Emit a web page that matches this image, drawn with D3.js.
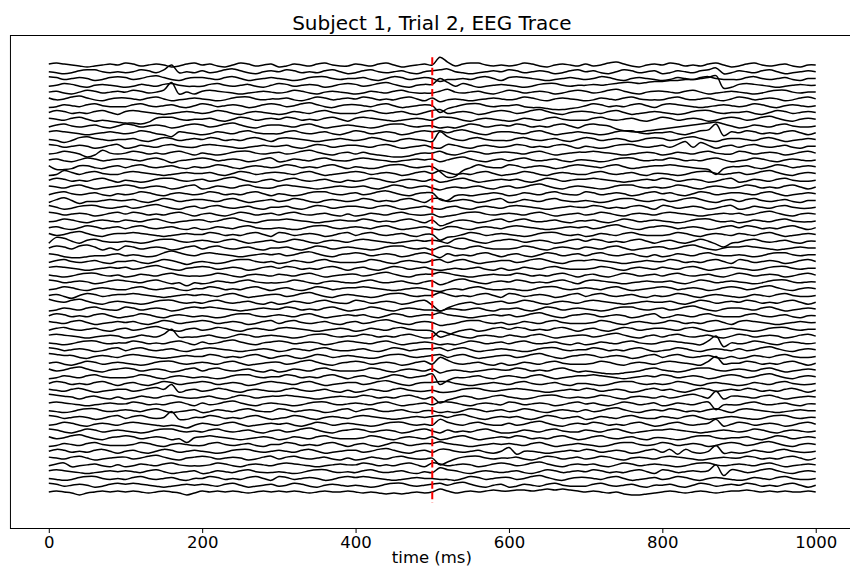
<!DOCTYPE html>
<html>
<head>
<meta charset="utf-8">
<script src="https://cdn.jsdelivr.net/npm/d3@7/dist/d3.min.js"></script>
<style>
  html, body { margin: 0; padding: 0; background: #fff; }
  svg { display: block; font-family: "DejaVu Sans", sans-serif; }
</style>
</head>
<body>
<svg id="chart" width="850" height="567"></svg>
<script>
// ---------------- data ----------------
const titleText = "Subject 1, Trial 2, EEG Trace";
const xLabel = "time (ms)";
const xTicks = [0, 200, 400, 600, 800, 1000];
const xLimits = [-50, 1049];
const yLimits = [-478.2, 31.0];
const stimulusTime = 500;
const stimulusSpan = [-452, 8];
const channelSpacing = 7;
const times = [0,10,20,30,40,50,60,70,80,90,100,110,120,130,140,150,160,170,180,190,
  200,210,220,230,240,250,260,270,280,290,300,310,320,330,340,350,360,370,380,390,
  400,410,420,430,440,450,460,470,480,490,500,510,520,530,540,550,560,570,580,590,
  600,610,620,630,640,650,660,670,680,690,700,710,720,730,740,750,760,770,780,790,
  800,810,820,830,840,850,860,870,880,890,900,910,920,930,940,950,960,970,980,990,1000];

// amplitude per channel (µV), one value per entry of `times`
const ch01 = [1,2,1,0,-1,-2,-1,0,1,0, 2,1,-1,0,1,0,-2,-1,1,2, 0,1,-1,-2,0,2,1,-1,0,1, -2,-1,1,0,-1,1,2,0,-1,-1, 1,0,-1,1,2,0,-2,-1,0,1, 0,8,3,-1,1,2,2,0,-1,0, -1,0,2,1,-1,-2,0,1,0,-1, 1,-1,0,2,3,1,-1,-2,0,1, 0,2,1,-1,0,-1,1,2,0,-2, -1,1,2,0,-1,0,1,-1,-2,0, 0];
const ch02 = [0,-1,-2,-1,1,2,2,0,-1,0, -1,0,2,1,-1,2,7,-1,0,-1, 1,-1,0,2,3,1,-1,-2,0,1, 0,2,1,-1,0,-1,1,2,0,-2, -1,1,2,0,-1,0,1,-1,-2,0, 1,2,3,0,-1,-2,-1,0,1,0, 2,1,-1,0,1,0,-2,-1,1,2, 0,1,-1,-2,0,2,1,-1,0,1, -2,-1,1,0,-1,1,2,4,-2,-1, 1,0,-1,1,2,0,-2,-1,0,1, 0];
const ch03 = [2,1,-1,0,1,0,-2,-1,1,2, 1,-1,0,2,3,1,-1,-2,0,1, 1,0,-1,1,2,0,-2,-1,0,1, 0,-1,-2,-1,1,2,2,0,-1,0, 0,1,-1,-2,0,2,1,-1,0,1, 0,-3,-1,-1,0,-1,1,2,0,-2, 1,2,1,0,-1,-2,-1,0,1,0, -1,0,2,1,-1,-2,0,1,0,-1, -2,-1,1,0,-1,1,2,0,-1,-1, -1,1,2,0,-1,0,1,-1,-2,0, 0];
const ch04 = [-1,0,2,1,-1,-2,0,1,0,-1, -2,-1,1,0,-1,1,2,0,-1,-1, -1,1,2,0,-1,0,1,-1,-2,0, 2,1,-1,0,1,0,-2,-1,1,2, 1,-1,0,2,3,1,-1,-2,0,1, 1,7,3,-1,2,0,-2,-1,0,1, 0,-1,-2,-1,1,2,2,0,-1,0, 0,1,0,1,2,3,3,2,3,4, 4,5,5,6,6,7,8,10,-3,-2, 1,2,1,0,-1,-2,-1,0,1,0, 0];
const ch05 = [0,1,-1,-2,0,2,1,-1,0,1, 0,2,1,-1,0,2,10,-2,0,-2, 1,2,1,0,-1,-2,-1,0,1,0, -1,0,2,1,-1,-2,0,1,0,-1, -2,-1,1,0,-1,1,2,0,-1,-1, -1,1,3,0,-1,0,1,-1,-2,0, 2,1,-1,0,1,0,-2,-1,1,2, 1,-1,0,2,3,1,-1,-2,0,1, 1,0,-1,1,2,0,-2,-1,0,1, 0,-1,-2,-1,1,2,2,0,-1,0, 0];
const ch06 = [1,-1,0,2,3,1,-1,-2,0,1, 1,0,-1,1,2,0,-2,-1,0,1, 0,-1,-2,-1,1,2,2,0,-1,0, 0,1,-1,-2,0,2,1,-1,0,1, 0,2,1,-1,0,-1,1,2,0,-2, 1,-3,-1,0,-1,-2,-1,0,1,0, -1,0,2,1,-1,-2,0,1,0,-1, -2,-1,1,0,-1,1,2,0,-1,-1, -1,1,2,0,-1,0,1,-1,-2,0, 2,1,-1,0,1,0,-2,-1,1,2, 0];
const ch07 = [-2,-1,1,0,-1,1,2,0,-1,-1, -1,1,2,0,-1,0,1,-1,-2,0, 2,1,-1,0,1,0,-2,-1,1,2, 1,-1,0,2,3,1,-1,-2,0,1, 1,0,-1,1,2,0,-2,-1,0,1, 0,-7,-3,-1,1,2,2,0,-1,0, 0,1,-1,-2,-2,-3,-4,-4,-3,-2, 0,2,1,-1,0,-1,1,2,0,-2, 1,2,1,0,-1,-2,-1,0,1,0, -1,0,2,1,-1,-2,0,1,0,-1, 0];
const ch08 = [0,2,1,-1,0,-1,1,2,0,-2, 1,2,1,0,-1,-2,-1,0,1,0, -1,0,2,1,-1,-2,0,1,0,-1, -2,-1,1,0,-1,1,2,0,-1,-1, -1,1,2,0,-1,0,1,-1,-2,0, 2,3,-1,0,1,0,-2,-1,1,2, 1,-1,0,2,3,1,-1,-2,0,1, 1,0,-1,1,2,0,-2,-1,0,1, 0,-1,-2,-1,1,2,2,0,-1,0, 0,1,-1,-2,0,2,1,-1,0,1, 0];
const ch09 = [1,0,-1,1,2,0,-2,-1,-2,-3, -4,-4,-5,-3,1,2,2,0,-1,0, 0,1,-1,-2,0,2,1,-1,0,1, 0,2,1,-1,0,-1,1,2,0,-2, 1,2,1,0,-1,-2,-1,0,1,0, -1,2,2,1,-1,-2,0,1,0,-1, -2,-1,1,0,-1,1,2,0,-1,-1, -1,1,2,0,-1,0,1,-1,-2,0, 2,1,-1,0,1,0,-2,-1,1,2, 1,-1,0,2,3,1,-1,-2,0,1, 0];
const ch10 = [-1,1,2,0,-1,0,1,-1,-2,0, 2,1,-1,0,1,0,-2,-1,1,2, 1,-1,0,2,3,1,-1,-2,0,1, 1,0,-1,1,2,0,-2,-1,0,1, 0,-1,-2,-1,1,2,2,0,-1,0, 0,-2,-1,-2,0,2,1,-1,0,1, 0,2,1,-1,0,-1,1,2,0,-2, 1,2,1,0,-3,-5,-6,-6,-5,-4, -3,-2,-1,0,1,2,3,4,2,0, -2,-1,1,0,-1,1,2,0,-1,-1, 0];
const ch11 = [1,2,1,0,-1,-2,-1,0,1,0, -1,0,2,1,-1,-2,-4,1,0,-1, -2,-1,1,0,-1,1,2,0,-1,-1, -1,1,2,0,-1,0,1,-1,-2,0, 2,1,-1,0,1,0,-2,-1,1,2, 1,2,0,2,3,1,-1,-2,0,1, 1,0,-1,1,2,0,-2,-1,0,1, 0,-1,-2,-1,1,2,2,0,-1,0, 0,1,-1,-2,0,2,3,9,-3,1, 0,2,1,-1,0,-1,1,2,0,-2, 0];
const ch12 = [0,-1,-3,-1,2,3,1,0,-1,0, 0,1,-1,-2,0,2,1,-1,0,1, 0,2,1,-1,0,-1,1,2,0,-2, 1,2,1,0,-1,-2,-1,0,1,0, -1,0,2,1,-1,-2,0,1,0,-1, -2,8,3,0,-1,1,2,0,-1,-1, -1,1,2,0,-1,0,1,-1,-2,0, 2,1,-1,0,1,0,-2,-1,1,2, 1,-1,0,2,3,1,-1,-2,0,1, 1,0,-1,1,2,0,-2,-1,0,1, 0];
const ch13 = [2,1,-1,0,1,0,-2,-1,1,2, -2,-1,1,0,-1,1,2,0,-1,-1, 1,2,1,0,-1,-2,-1,0,1,0, 0,1,-1,-2,0,2,1,-1,0,1, 1,0,-1,1,2,0,-2,-1,0,1, -1,-2,2,1,-1,-2,0,1,0,-1, 0,2,1,-1,0,-1,1,2,0,-2, 0,-1,-2,-1,1,2,2,0,-1,0, 1,-1,2,5,-1,4,1,-2,0,1, -1,1,2,0,-1,0,1,-1,-2,0, 0];
const ch14 = [-1,0,2,1,-1,-4,-2,3,0,-1, 0,2,1,-1,0,-1,1,2,0,-2, 0,-1,-2,-1,1,2,2,0,-1,0, 1,-1,0,2,3,1,-1,-2,0,1, -1,1,-1,-2,-3,-4,-4,-3,-1,0, 0,2,-1,-2,0,2,1,-1,0,1, 1,0,-1,1,2,0,-2,-1,0,1, 1,2,1,0,-1,-2,-1,0,1,0, -2,-1,1,0,-1,1,2,0,-1,-1, 2,1,-1,0,1,0,-2,-1,1,2, 0];
const ch15 = [0,1,-1,-2,0,2,1,-1,0,1, 1,0,-1,1,2,0,-3,-1,0,1, 2,1,-1,0,1,0,-2,-1,1,2, -2,-1,1,0,-1,1,2,0,-1,-1, 1,2,1,0,-1,-2,-1,0,1,0, 1,-2,0,2,3,1,-1,-2,0,1, -1,1,2,0,-1,0,1,-1,-2,0, 0,-1,-2,-1,1,2,2,0,-1,0, 0,2,1,-1,0,-1,1,2,0,-2, -1,0,2,1,-1,-2,0,1,0,-1, 0];
const ch16 = [1,-3,-3,-2,1,1,-1,-2,0,1, -1,1,2,0,-1,0,1,-1,-2,0, -1,0,2,1,-1,-2,0,1,0,-1, 0,2,1,-1,0,-1,1,2,0,-2, 0,-1,-2,-1,1,2,2,0,-1,0, 0,-5,-11,-10,-4,-1,2,0,-1,-1, 2,1,-1,0,1,0,-2,-1,1,2, 1,0,-1,1,2,0,-2,-1,0,1, 1,2,1,0,-1,-2,-3,-8,-2,0, 0,1,-1,-2,0,2,1,-1,0,1, 0];
const ch17 = [-2,-1,3,1,-1,1,2,0,-1,-1, 1,2,1,0,-1,-2,-1,0,1,0, 0,1,-1,-2,0,2,1,-1,0,1, 1,0,-1,1,2,0,-2,-1,0,1, 2,1,-1,0,1,0,-2,-1,1,2, 0,3,1,-1,0,-1,1,2,0,-2, -1,0,2,1,-1,-2,0,1,0,-1, -1,1,2,0,-1,0,1,-1,-2,0, 0,-1,-2,-1,1,2,2,0,-1,0, 1,-1,0,2,3,1,-1,-2,0,1, 0];
const ch18 = [0,2,1,-1,0,-1,1,2,0,-2, 0,-1,-2,-1,1,2,2,0,-1,0, 1,-1,0,2,3,1,-1,-2,0,1, -1,1,2,0,-1,0,1,-1,-2,0, -1,0,2,1,-1,-2,0,1,0,-1, 1,-2,-1,1,2,0,-2,-1,0,1, 0,1,-1,-2,0,2,1,-1,0,1, 1,2,1,0,-1,-2,-1,0,1,0, 2,1,-1,0,1,0,-2,-1,1,2, -2,-1,1,0,-1,1,2,0,-1,-1, 0];
const ch19 = [1,0,-1,1,2,0,-2,-1,0,1, 2,1,-1,0,1,0,-2,-1,1,2, -2,-1,1,0,-1,1,2,0,-1,-1, 1,2,1,0,-1,-2,-1,0,1,0, 0,1,-1,-2,0,2,1,-1,0,1, -1,-3,-1,0,-1,0,1,-1,-2,0, 1,-1,0,2,3,1,-1,-2,0,1, 0,-1,-2,-1,1,2,2,0,-1,0, -1,0,2,1,-1,-2,0,1,0,-1, 0,2,1,-1,0,-1,1,2,0,-2, 0];
const ch20 = [-1,1,2,0,-1,0,1,-1,-2,0, -1,0,2,1,-1,-2,0,1,0,-1, 0,2,1,-1,0,-1,1,2,0,-2, 0,-1,-2,-1,1,2,2,0,-1,0, 1,-1,0,2,3,1,-1,-2,0,1, 1,-6,-7,-2,-1,-2,-1,0,1,0, -2,-1,1,0,-1,1,2,0,-1,-1, 2,1,-1,0,1,0,-2,-1,1,2, 0,1,-1,-2,0,2,1,-1,0,1, 1,0,-1,1,2,0,-2,-1,0,1, 0];
const ch21 = [-2,1,3,0,-3,-1,-1,0,1,0, 0,1,-1,-2,0,2,1,-1,0,1, 1,0,-1,1,2,0,-2,-1,0,1, -1,0,2,1,-1,-2,0,1,0,-1, 0,2,1,-1,0,-1,1,2,0,-2, 2,2,-1,0,1,0,-2,-1,1,2, -2,-1,1,0,-1,1,2,0,-1,-1, 0,-1,-2,-1,1,2,2,0,-1,0, 1,-1,0,2,3,1,-1,-2,0,1, -1,1,2,0,-1,0,1,-1,-2,0, 0];
const ch22 = [2,0,-2,-1,1,2,2,0,-1,0, 1,-1,0,2,3,1,-1,-2,0,1, -1,1,2,0,-1,0,1,-1,-2,0, 0,1,-1,-2,0,2,1,-1,0,1, 1,0,-1,1,2,0,-2,-1,0,1, -1,-2,0,1,-1,-2,0,1,0,-1, 1,2,1,0,-1,-2,-1,0,1,0, 0,2,1,-1,0,-1,1,2,0,-2, 2,1,-1,0,1,0,-2,-1,1,2, -2,-1,1,0,-1,1,2,0,-1,-1, 0];
const ch23 = [2,1,-1,0,1,0,-2,-1,1,2, 0,2,1,-1,0,-1,1,2,0,-2, 0,1,-1,-2,0,2,1,-1,0,1, -1,1,2,0,-1,0,1,-1,-2,0, -2,-1,1,0,-1,1,2,0,-1,-1, 0,-3,-2,-1,1,2,2,0,-1,0, 1,0,-1,1,2,0,-2,-1,0,1, -1,0,2,1,-1,-2,0,1,0,-1, 1,2,1,0,-1,-2,-1,0,1,0, 1,-1,0,2,3,1,-1,-2,0,1, 0];
const ch24 = [-1,0,2,1,-1,-2,0,1,0,-1, 1,0,-1,1,2,0,-2,-1,0,1, 1,-1,0,2,3,1,-1,-2,0,1, 1,2,1,0,-1,-2,-1,0,1,0, 0,2,1,-1,0,-1,1,2,0,-2, 1,-5,-3,0,1,0,-2,-1,1,2, -1,1,2,0,-1,0,1,-1,-2,0, 0,1,-1,-2,0,2,1,-1,0,1, 0,-1,-2,-1,1,2,2,0,-1,0, -2,-1,1,0,-1,1,2,0,-1,-1, 0];
const ch25 = [0,1,-1,-2,0,2,1,-1,0,1, -1,1,2,0,-1,0,1,-1,-2,0, -2,-1,1,0,-1,1,2,0,-1,-1, 0,-1,-2,-1,1,2,2,0,-1,0, 1,0,-1,1,2,0,-2,-1,0,1, -1,-2,1,1,-1,-2,0,1,0,-1, 1,2,1,0,-1,-2,-1,0,1,0, 1,-1,0,2,3,1,-1,-2,0,1, 2,1,-1,0,1,0,-2,-1,1,2, 0,2,1,-1,0,-1,1,2,0,-2, 0];
const ch26 = [1,-1,0,2,3,1,-1,-2,0,1, 1,2,1,0,-1,-2,-1,0,1,0, 0,2,1,-1,0,-1,1,2,0,-2, 2,1,-1,0,1,0,-2,-1,1,2, -1,1,2,0,-1,0,1,-1,-2,0, 0,-6,-3,-2,0,2,1,-1,0,1, 0,-1,-2,-1,1,2,2,0,-1,0, -2,-1,1,0,-1,1,2,0,-1,-1, -1,0,2,1,-1,-2,0,1,0,-1, 1,0,-1,1,2,0,-2,-1,0,1, 0];
const ch27 = [-2,4,3,0,-2,1,2,0,-1,-1, 0,-1,-2,-1,1,2,2,0,-1,0, 1,0,-1,1,2,0,-2,-1,0,1, -1,0,2,1,-1,-2,0,1,0,-1, 1,2,1,0,-1,-2,-1,0,1,0, 1,0,-2,2,3,1,-1,-2,0,1, 2,1,-1,0,1,0,-2,-1,1,2, 0,2,1,-1,0,-1,1,2,0,-2, 0,1,-1,-2,0,2,0,-3,-6,-2, -1,1,2,0,-1,0,1,-1,-2,0, 0];
const ch28 = [0,2,1,-1,2,3,1,-2,0,-2, 2,1,-1,0,1,0,-2,-1,1,2, -1,1,2,0,-1,0,1,-1,-2,0, 0,1,-1,-2,0,2,1,-1,0,1, 0,-1,-2,-1,1,2,2,0,-1,0, -2,1,2,0,-1,1,2,0,-1,-1, -1,0,2,1,-1,-2,0,1,0,-1, 1,0,-1,1,2,0,-2,-1,0,1, 1,-1,0,2,3,1,-1,-2,0,1, 1,2,1,0,-1,-2,-1,0,1,0, 0];
const ch29 = [1,0,-2,-3,-3,-2,-1,-1,0,1, -1,0,-1,-2,-1,2,4,2,0,-1, 1,2,1,0,-1,-2,-1,0,1,0, 1,-1,0,2,3,1,-1,-2,0,1, 2,1,-1,0,1,0,-2,-1,1,2, 0,-3,1,-1,0,-1,1,2,0,-2, 0,1,-1,-2,0,2,1,-1,0,1, -1,1,2,0,-1,0,1,-1,-2,0, -2,-1,1,0,-1,1,2,0,-1,-1, 0,-1,-2,-1,1,2,2,0,-1,0, 0];
const ch30 = [-1,1,2,0,-1,0,1,-1,-2,0, 0,1,-1,-2,0,2,1,-1,-3,-1, 0,-1,-2,-1,1,2,2,0,-1,0, -2,-1,1,0,-1,1,2,0,-1,-1, -1,0,2,1,-1,-2,0,1,0,-1, 1,2,-1,1,2,0,-2,-1,0,1, 1,-1,0,2,3,1,-1,-2,0,1, 1,2,1,0,-1,-2,-1,0,1,0, 0,2,1,-1,0,-1,1,2,0,-2, 2,1,-1,0,1,0,-2,-1,1,2, 0];
const ch31 = [1,2,1,0,-1,-2,-1,0,1,0, 1,-1,0,2,3,1,-1,-2,0,1, 2,1,-1,0,1,0,-2,-1,1,2, 0,2,1,-1,0,-1,1,2,0,-2, 0,1,-1,-2,0,2,1,-1,0,1, -1,-2,-1,0,-1,0,1,-1,-2,0, -2,-1,1,0,-1,1,2,0,-1,-1, -1,0,2,1,-1,-2,0,1,0,-1, 1,0,-1,1,2,0,-2,-1,0,1, 0,-1,-2,-1,1,2,2,0,-1,0, 0];
const ch32 = [0,-1,-2,-1,1,2,2,0,-1,0, -2,-1,1,0,-1,1,2,0,-1,-1, -1,0,2,1,-1,-2,0,1,0,-1, 1,0,-1,1,2,0,-2,-1,0,1, 1,-1,0,2,3,1,-1,-2,0,1, 1,3,2,0,-1,-2,-1,0,1,0, 0,2,1,-1,0,-1,1,2,0,-2, 0,1,-1,-2,0,2,1,-1,0,1, -1,1,2,0,-1,0,1,-1,-2,0, 2,1,-1,0,1,0,-2,-1,1,2, 0];
const ch33 = [2,1,-1,0,1,0,-2,-1,1,2, 1,0,-1,1,2,0,-2,-1,-4,-1, -2,-1,1,0,-1,1,2,0,-1,-1, -1,0,2,1,-1,-2,0,1,0,-1, -1,1,2,0,-1,0,1,-1,-2,0, 1,-3,-1,2,3,1,-1,-2,0,1, 0,2,1,-1,0,-1,1,2,0,-2, 1,2,1,0,-1,-2,-1,0,1,0, 0,1,-1,-2,0,2,1,-1,0,1, 0,-1,-2,-1,1,2,2,0,-1,0, 0];
const ch34 = [-1,0,2,1,-1,-2,0,1,0,-1, -1,1,2,0,-1,0,1,-1,-2,0, 0,2,1,-1,0,-1,1,2,0,-2, 0,1,-1,-2,0,2,1,-1,0,1, 1,2,1,0,-1,-2,-1,0,1,0, -2,-3,-1,0,-1,1,2,0,-1,-1, 0,-1,-2,-1,1,2,2,0,-1,0, 1,0,-1,1,2,0,-2,-1,0,1, 2,1,-1,0,1,0,-2,-1,1,2, 1,-1,0,2,3,1,-1,-2,0,1, 0];
const ch35 = [0,1,-1,-3,0,2,1,-1,0,1, 1,2,1,0,-1,-2,-1,0,1,0, 1,0,-1,1,2,0,-2,-1,0,1, 1,-1,0,2,3,1,-1,-2,0,1, 0,-1,-2,-1,1,2,2,0,-1,0, 0,3,1,-1,0,-1,1,2,0,-2, 2,1,-1,0,1,0,-2,-1,1,2, -1,1,2,0,-1,0,1,-1,-2,0, -1,0,2,1,-1,-2,0,1,0,-1, -2,-1,1,0,-1,1,2,0,-1,-1, 0];
const ch36 = [3,1,0,2,3,1,-1,-2,0,1, 0,-1,-2,-1,1,2,2,0,-1,0, -1,1,2,0,-1,0,1,-1,-2,0, -2,-1,1,0,-1,1,2,0,-1,-1, 2,1,-1,0,1,0,-2,-1,1,2, -3,-9,-6,-3,-1,0,-2,-1,0,1, -1,0,2,1,-1,-2,0,1,0,-1, 1,2,1,0,-1,-2,-1,0,1,0, 0,1,-1,-2,0,2,1,-1,0,1, 0,2,1,-1,0,-1,1,2,0,-2, 0];
const ch37 = [-2,-1,1,0,-1,1,2,0,-1,-1, 2,1,-1,0,1,0,-2,-1,1,2, 1,2,1,0,-1,-2,-1,0,1,0, 0,2,1,-1,0,-1,1,2,0,-2, -1,0,2,1,-1,-2,0,1,0,-1, -1,-2,0,0,-1,0,1,-1,-2,0, 0,1,-1,-2,0,2,1,-1,0,1, 0,-1,-2,-1,1,2,2,0,-1,0, 1,-1,0,2,3,1,-1,-2,0,1, 1,0,-1,1,2,0,-2,-1,0,1, 0];
const ch38 = [0,2,1,-1,0,-1,1,2,0,-2, -1,0,2,1,-1,-2,0,1,0,-1, 0,-1,-2,-1,1,2,2,0,-1,0, 1,0,-1,1,2,0,-2,-1,0,1, 0,1,-1,-2,0,2,1,-1,0,1, 1,3,1,0,-1,-2,-1,0,1,0, 1,-1,0,2,3,1,-1,-2,0,1, 2,1,-1,0,1,0,-2,-1,1,2, -2,-1,1,0,-1,1,2,0,-1,-1, -1,1,2,0,-1,0,1,-1,-2,0, 0];
const ch39 = [1,0,-1,1,2,0,-2,-1,0,1, 0,1,-1,-2,0,2,1,-1,0,1, 2,1,-1,0,1,0,-2,-1,1,2, -1,1,2,0,-1,0,1,-1,-2,0, 1,-1,0,2,3,1,-1,-2,0,1, 0,-3,-2,-1,1,2,2,0,-1,0, -2,-1,1,0,-1,1,2,0,-1,-1, -1,0,2,1,-1,-2,0,1,0,-1, 0,2,1,-1,0,-1,1,2,0,-2, 1,2,1,0,-1,-2,-1,0,1,0, 0];
const ch40 = [-1,1,2,0,-1,0,1,-1,-2,0, 1,-1,0,2,3,1,-1,-2,0,1, -1,0,2,1,-1,-2,0,1,0,-1, 1,2,1,0,-1,-2,-1,0,1,0, -2,-1,1,0,-1,1,2,0,-1,-1, -2,-8,-6,-3,-1,0,-2,-1,1,2, 0,2,1,-1,0,-1,1,2,0,-2, 0,1,-1,-2,0,2,1,-1,0,1, 1,0,-1,1,2,0,-2,-1,0,1, 0,-1,-2,-1,1,2,2,0,-1,0, 0];
const ch41 = [1,2,1,0,-1,-2,-1,0,1,0, -2,-1,1,0,-1,2,7,-1,-1,-1, 0,1,-1,-2,0,2,1,-1,0,1, 0,-1,-2,-1,1,2,2,0,-1,0, 0,2,1,-1,0,-1,1,2,0,-2, -1,5,3,1,-1,-2,0,1,0,-1, 1,0,-1,1,2,0,-2,-1,0,1, 1,-1,0,2,3,1,-1,-2,0,1, -1,1,2,0,-1,0,1,-1,-2,0, 2,1,-1,0,1,0,-2,-1,1,2, 0];
const ch42 = [0,-1,-2,-1,1,2,2,0,-1,0, 0,2,1,-1,0,-1,1,2,0,-2, 1,-1,0,2,3,1,-1,-2,0,1, 2,1,-1,0,1,0,-2,-1,1,2, 1,0,-1,1,2,0,-2,-1,0,1, 0,-2,-1,-2,0,2,1,-1,0,1, -1,1,2,0,-1,0,1,-1,-2,0, -2,-1,1,0,-1,1,2,0,-1,-1, 1,2,1,0,-1,-2,2,7,-4,0, -1,0,2,1,-1,-2,0,1,0,-1, 0];
const ch43 = [2,1,-1,0,1,0,-2,-1,1,2, -1,1,2,0,-1,0,1,-1,-2,0, 1,2,1,0,-1,-2,-1,0,1,0, -2,-1,1,0,-1,1,2,0,-1,-1, 0,1,-1,-2,0,2,1,-1,0,1, 1,2,-1,1,2,0,-2,-1,0,1, 0,-1,-2,-1,1,2,2,0,-1,0, 0,2,1,-1,0,-1,1,2,0,-2, -1,0,2,1,-1,-2,0,1,0,-1, 1,-1,0,2,3,1,-1,-2,0,1, 0];
const ch44 = [3,2,1,1,-1,-2,0,1,0,-1, 1,2,1,0,-1,-2,-1,0,1,0, 0,2,1,-1,0,-1,1,2,0,-2, 0,1,-1,-2,0,2,1,-1,0,1, 0,-1,-2,-1,1,2,2,0,-1,0, 1,2,-1,1,2,0,-2,-1,0,1, 1,-1,0,2,3,1,-1,-2,0,1, 2,1,-1,0,1,0,-2,-1,1,2, -1,1,2,0,-1,0,1,-1,-2,0, -2,-1,1,0,-1,1,2,0,-1,-1, 0];
const ch45 = [0,1,-1,-2,0,2,1,-1,0,1, 0,-1,-2,-1,1,2,2,0,-1,0, 1,0,-1,1,2,0,-2,-1,0,1, 1,-1,0,2,3,1,-1,-2,0,1, 2,1,-1,0,1,0,-2,-1,1,2, -1,6,3,0,-1,0,1,-1,-2,0, -2,-1,1,0,-1,1,2,0,-1,-1, -1,0,2,1,-1,-2,0,1,0,-1, 1,2,1,0,-1,-2,2,7,-1,0, 0,2,1,-1,0,-1,1,2,0,-2, 0];
const ch46 = [1,-1,0,2,3,1,-1,-2,0,1, 2,1,-1,0,1,0,-2,-1,1,2, -1,1,2,0,-1,0,1,-1,-2,0, -2,-1,1,0,-1,1,2,0,-1,-1, -1,0,2,1,-1,-2,0,1,0,-1, 1,-3,-1,0,-1,-2,-1,0,1,0, 0,2,1,-1,0,-1,1,2,0,-2, -1,-2,-3,-4,-4,-3,-2,-1,1,2, 0,-1,-2,-1,1,2,2,0,-1,0, 1,0,-1,1,2,0,-2,-1,0,1, 0];
const ch47 = [-2,-1,1,0,-1,1,2,0,-1,-1, -1,0,2,1,-1,-2,0,1,0,-1, 0,-1,-2,-1,1,2,2,0,-1,0, 0,2,1,-1,0,-1,1,2,0,-2, 0,1,-1,-2,0,2,1,-1,0,1, 3,-8,-4,-1,-1,0,1,-1,-2,0, 1,0,-1,1,2,0,-2,-1,0,1, 1,2,1,0,-1,-2,-1,0,1,0, 2,1,-1,0,1,0,-2,-1,1,2, 1,-1,0,2,3,1,-1,-2,0,1, 0];
const ch48 = [0,2,1,-1,0,-1,1,2,0,-2, 0,1,-1,-2,0,2,1,-1,0,1, 2,1,-1,0,1,0,-2,-1,1,2, 1,0,-1,1,2,0,-2,-1,0,1, 1,-1,0,2,3,1,-1,-2,0,1, 1,2,2,0,-1,-2,-1,0,1,0, -1,1,2,0,-1,0,1,-1,-2,0, 0,-1,-2,-1,1,2,2,0,-1,0, -1,0,2,1,-1,-2,0,1,0,-1, -2,-1,1,0,-1,1,2,0,-1,-1, 0];
const ch49 = [1,0,-1,1,2,0,-2,-1,0,1, 1,-1,0,2,3,1,6,-2,0,1, -1,0,2,1,-1,-2,0,1,0,-1, -1,1,2,0,-1,0,1,-1,-2,0, -2,-1,1,0,-1,1,2,0,-1,-1, 0,-2,-2,-1,1,2,2,0,-1,0, 1,2,1,0,-1,-2,-1,0,1,0, 2,1,-1,0,1,0,-2,-1,1,2, 0,1,-1,-2,0,2,1,-1,0,1, 0,2,1,-1,0,-1,1,2,0,-2, 0];
const ch50 = [3,2,1,0,-2,0,1,-1,-2,0, -2,-1,1,0,-1,1,2,0,-1,-1, 0,1,-1,-2,0,2,1,-1,0,1, 1,2,1,0,-1,-2,-1,0,1,0, 0,2,1,-1,0,-1,1,2,0,-2, 0,-6,-3,-1,1,0,-2,-1,1,2, 0,-1,-2,-1,1,2,2,0,-1,0, -1,0,2,1,-1,-2,0,1,0,-1, 1,-1,0,2,3,1,-1,6,-2,1, 1,0,-1,1,2,0,-2,-1,0,1, 0];
const ch51 = [1,2,1,0,-1,-2,-1,0,1,0, 0,2,1,-1,0,-1,1,2,0,-2, 1,-1,0,2,3,1,-1,-2,0,1, 0,-1,-2,-1,1,2,2,0,-1,0, 1,0,-1,1,2,0,-2,-1,0,1, -1,2,2,1,-1,-2,0,1,0,-1, 2,1,-1,0,1,0,-2,-1,1,2, 0,1,-1,-2,0,2,1,-1,0,1, -2,-1,1,0,-1,1,2,-6,-1,-1, -1,1,2,0,-1,0,1,-1,-2,0, 0];
const ch52 = [0,-1,-2,-1,1,2,2,0,-1,0, 1,0,-1,1,2,0,-2,-1,0,1, -2,-1,1,0,-1,1,2,0,-1,-1, 2,1,-1,0,1,0,-2,-1,1,2, -1,1,2,0,-1,0,1,-1,-2,0, 0,-2,-1,-2,0,2,1,-1,0,1, -1,0,2,1,-1,-2,0,1,0,-1, 1,-1,0,2,3,1,-1,-2,0,1, 0,2,1,-1,0,-1,1,2,0,-2, 1,2,1,0,-1,-2,-1,0,1,0, 0];
const ch53 = [2,1,-1,0,1,0,-2,-1,1,2, -1,1,2,0,-1,0,6,-2,-2,0, 0,2,1,-1,0,-1,1,2,0,-2, -1,0,2,1,-1,-2,0,1,0,-1, 1,2,1,0,-1,-2,-1,0,1,0, 1,2,0,2,3,1,-1,-2,0,1, 0,1,-1,-2,0,2,1,-1,0,1, -2,-1,1,0,-1,1,2,0,-1,-1, 1,0,-1,1,2,0,-2,-1,0,1, 0,-1,-2,-1,1,2,2,0,-1,0, 0];
const ch54 = [-1,0,2,1,-1,-2,0,1,0,-1, 1,2,1,0,-1,-2,-1,-2,-4,-1, 1,0,-1,1,2,0,-2,-1,0,1, 0,1,-1,-2,0,2,1,-1,0,1, 0,-1,-2,-1,1,2,2,0,-1,0, -1,5,2,0,-1,1,2,0,-1,-1, 1,-1,0,2,3,1,-1,-2,0,1, 0,2,1,-1,0,-1,1,2,0,-2, -1,1,2,0,-1,0,1,5,-2,0, 2,1,-1,0,1,0,-2,-1,1,2, 0];
const ch55 = [2,1,-1,-2,0,2,1,-1,0,1, 0,-1,-2,-1,1,2,2,0,-1,0, -1,1,2,0,-1,0,1,-1,-2,0, 1,-1,0,2,3,1,-1,-2,0,1, 2,1,-1,0,1,0,-2,-1,1,2, 0,-2,1,-1,0,-1,1,2,0,-2, -2,-1,1,0,-1,1,2,0,-1,-1, 1,0,-1,1,2,0,-2,-1,0,1, 1,2,1,0,-1,-2,-1,0,1,0, -1,0,2,1,-1,-2,0,1,0,-1, 0];
const ch56 = [1,-1,0,2,3,1,-1,-2,0,1, 2,1,-1,0,1,0,-2,-1,-5,0, 1,2,1,0,-1,-2,-1,0,1,0, -2,-1,1,0,-1,1,2,0,-1,-1, -1,0,2,1,-1,-2,0,1,0,-1, 1,-2,-1,1,2,0,-2,-1,0,1, 0,2,1,-1,0,-1,1,2,0,-2, -1,1,2,0,-1,0,1,-1,-2,0, 0,-1,-2,-1,1,2,2,0,-1,0, 0,1,-1,-2,0,2,1,-1,0,1, 0];
const ch57 = [-2,-1,1,0,-1,1,2,0,-1,-1, -1,0,2,1,-1,-2,0,1,0,-1, -1,1,2,0,-1,0,1,-1,-2,0, 0,2,1,-1,0,-1,1,2,0,-2, 0,1,-1,-2,0,2,1,-1,0,1, 1,3,1,0,-1,-2,-1,0,1,0, 1,0,-1,1,2,0,-2,-1,0,1, 0,-1,-2,-1,1,2,2,0,-1,0, 2,1,-1,0,1,0,-2,-1,1,2, 1,-1,0,2,3,1,-1,-2,0,1, 0];
const ch58 = [0,2,1,-1,0,-1,1,2,0,-2, 0,1,-1,-2,0,2,1,-1,0,1, 0,-1,-2,-1,1,2,2,0,-1,0, 1,0,-1,1,2,0,-2,-1,0,1, 1,-1,0,2,3,1,-1,-2,0,1, -1,2,2,0,-1,0,1,-1,-2,0, 4,-3,0,0,-1,-2,-1,0,1,0, 2,1,-1,0,1,0,-2,-1,1,2, -1,2,-3,2,-1,-2,0,6,-2,-1, -2,-1,1,0,-1,1,2,0,-1,-1, 0];
const ch59 = [1,0,-1,1,2,0,-2,-1,0,1, 1,-1,0,2,3,1,-1,-2,0,1, 2,1,-1,0,1,0,-2,-1,1,2, -1,1,2,0,-1,0,1,-1,-2,0, -2,-1,1,0,-1,1,2,0,-1,-1, 0,-7,-4,-1,1,2,2,0,-1,0, 0,1,-1,-2,0,2,1,-1,0,1, -1,0,2,1,-1,-2,0,1,0,-1, 1,2,1,0,-1,-2,-1,0,1,0, 0,2,1,-1,0,-1,1,2,0,-2, 0];
const ch60 = [-1,1,2,-2,-1,0,1,-1,-2,0, -2,-1,1,0,-1,1,2,0,-1,-1, -1,0,2,1,-1,-2,0,1,0,-1, 1,2,1,0,-1,-2,-1,0,1,0, 0,2,1,-1,0,-1,1,2,0,-2, 2,1,-1,0,1,0,-2,-1,1,2, 1,-1,0,2,3,1,-1,-2,0,1, 0,1,-1,-2,0,2,1,-1,0,1, 0,-1,-2,-1,1,2,2,0,-1,0, 1,0,-1,1,2,0,-2,-1,0,1, 0];
const ch61 = [1,2,1,0,-1,-2,-1,0,1,0, 1,0,-1,1,2,0,-2,-1,0,1, -2,-1,1,0,-1,1,2,0,-1,-1, 0,-1,-2,-1,1,2,2,0,-1,0, -1,1,2,0,-1,0,1,-1,-2,0, -1,4,2,1,-1,-2,0,1,0,-1, 0,1,-1,-2,0,2,1,-1,0,1, 0,2,1,-1,0,-1,1,2,0,-2, 2,1,-1,0,1,0,1,7,-4,2, 1,-1,0,2,3,1,-1,-2,0,1, 0];
const ch62 = [0,-1,-2,-1,1,2,2,0,-1,0, -1,1,2,0,-1,0,1,-1,-2,0, 0,2,1,-1,0,-1,1,2,0,-2, 2,1,-1,0,1,0,-2,-1,1,2, 1,2,1,0,-1,-2,-1,0,1,0, 0,-1,-1,-2,0,2,1,-1,0,1, 1,-1,0,2,3,1,-1,-2,0,1, 1,0,-1,1,2,0,-2,-1,0,1, -1,0,2,1,-1,-2,0,1,0,-1, -2,-1,1,0,-1,1,2,0,-1,-1, 0];
const ch63 = [2,1,-1,0,1,0,-2,-1,1,2, 1,2,1,0,-1,-2,-1,0,1,0, 1,0,-1,1,2,0,-2,-1,0,1, -1,0,2,1,-1,-2,0,1,0,-1, 0,-1,-2,-1,1,2,2,0,-1,0, 1,2,0,2,3,1,-1,-2,0,1, -2,-1,1,0,-1,1,2,0,-1,-1, -1,1,2,0,-1,0,1,-1,-2,0, 0,1,-1,-2,0,2,1,-1,0,1, 0,2,1,-1,0,-1,1,2,0,-2, 0];
const ch64 = [0,1,0,-1,-3,-1,0,1,0,1, 0,1,0,-1,0,1,0,-1,-3,-1, 1,0,1,0,1,0,-1,0,1,0, 1,0,1,0,-1,0,1,0,0,1, 0,-1,0,-1,-2,-1,-2,-1,0,-1, 0,3,1,-1,0,1,0,1,2,1, 1,2,2,1,2,3,2,3,2,1, 0,1,0,-1,0,-2,-3,-3,-2,-1, 0,1,0,-1,0,1,0,-1,0,1, 1,2,1,0,1,0,1,0,0,1, 0];

const channels = [ch01,ch02,ch03,ch04,ch05,ch06,ch07,ch08,ch09,ch10,ch11,ch12,ch13,ch14,ch15,ch16,
  ch17,ch18,ch19,ch20,ch21,ch22,ch23,ch24,ch25,ch26,ch27,ch28,ch29,ch30,ch31,ch32,
  ch33,ch34,ch35,ch36,ch37,ch38,ch39,ch40,ch41,ch42,ch43,ch44,ch45,ch46,ch47,ch48,
  ch49,ch50,ch51,ch52,ch53,ch54,ch55,ch56,ch57,ch58,ch59,ch60,ch61,ch62,ch63,ch64];

// ---------------- layout ----------------
const plot = { left: 10.45, right: 853.3, top: 35, bottom: 528 };
const svg = d3.select("#chart");

const x = d3.scaleLinear().domain(xLimits).range([plot.left, plot.right]);
const y = d3.scaleLinear().domain(yLimits).range([plot.bottom, plot.top]);

const line = d3.line()
  .x((d) => x(d.t))
  .y((d) => y(d.v))
  .curve(d3.curveCatmullRom.alpha(0.5));

const gTraces = svg.append("g");
channels.forEach((vals, i) => {
  const n = Math.min(vals.length, times.length);
  const pts = [];
  for (let k = 0; k < n; k++) pts.push({ t: times[k], v: vals[k] - i * channelSpacing });
  gTraces.append("path")
    .attr("d", line(pts))
    .attr("fill", "none")
    .attr("stroke", "#000")
    .attr("stroke-width", 1.5)
    .attr("stroke-linejoin", "round");
});

// stimulus marker
svg.append("line")
  .attr("x1", x(stimulusTime)).attr("x2", x(stimulusTime))
  .attr("y1", y(stimulusSpan[1])).attr("y2", y(stimulusSpan[0]))
  .attr("stroke", "#ff0000")
  .attr("stroke-width", 2)
  .attr("stroke-dasharray", "7.4,3.2");

// frame
svg.append("rect")
  .attr("x", plot.left).attr("y", plot.top + 0.5)
  .attr("width", plot.right - plot.left)
  .attr("height", plot.bottom - plot.top)
  .attr("fill", "none")
  .attr("stroke", "#000")
  .attr("stroke-width", 1);

// x axis
const xAxis = d3.axisBottom(x)
  .tickValues(xTicks)
  .tickFormat(d3.format("d"))
  .tickSize(5)
  .tickSizeOuter(0)
  .tickPadding(3);

const gx = svg.append("g")
  .attr("transform", `translate(0,${plot.bottom})`)
  .call(xAxis);
gx.select(".domain").remove();
gx.selectAll(".tick line").attr("stroke", "#000").attr("stroke-width", 1);
gx.selectAll(".tick text")
  .attr("fill", "#000")
  .style("font-family", "'DejaVu Sans', sans-serif")
  .style("font-size", "16.5px");

const cx = (plot.left + plot.right) / 2;
svg.append("text")
  .attr("x", cx).attr("y", 563)
  .attr("text-anchor", "middle")
  .style("font-size", "16.5px")
  .attr("fill", "#000")
  .text(xLabel);

svg.append("text")
  .attr("x", cx).attr("y", 30)
  .attr("text-anchor", "middle")
  .style("font-size", "20px")
  .attr("fill", "#000")
  .text(titleText);
</script>
</body>
</html>
